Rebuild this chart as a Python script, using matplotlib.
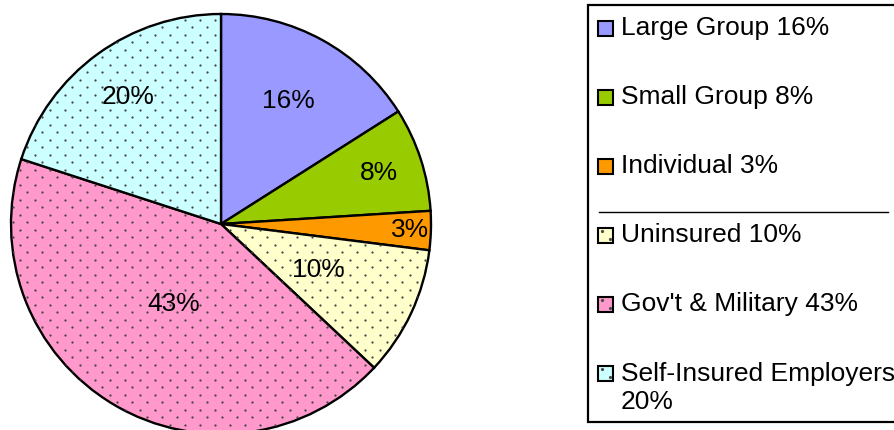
import numpy as np
import matplotlib
matplotlib.use("Agg")
import matplotlib.pyplot as plt
from matplotlib.patches import Rectangle
from matplotlib.lines import Line2D

plt.rcParams['font.family'] = ['Liberation Sans', 'DejaVu Sans']

categories = ["Large Group", "Small Group", "Individual", "Uninsured",
              "Gov't & Military", "Self-Insured Employers"]
values = [16, 8, 3, 10, 43, 20]
legend_labels = ["Large Group 16%", "Small Group 8%", "Individual 3%",
                 "Uninsured 10%", "Gov't & Military 43%",
                 "Self-Insured Employers\n20%"]
colors = ["#9999FF", "#99CC00", "#FF9900", "#FFFFCC", "#FF99CC", "#CCFFFF"]
dotted = [False, False, False, True, True, True]
label_radius = [0.67, 0.79, 0.90, 0.51, 0.44, 0.75]

W, H = 895, 430
FS = 19
fig = plt.figure(figsize=(W / 100, H / 100), dpi=100)

# pie axes: center (221,224) px, radius 210 px
cx, cy, R = 221, 224, 210
ax = fig.add_axes([(cx - R) / W, (H - cy - R) / H, 2 * R / W, 2 * R / H])

wedges, _ = ax.pie(values, colors=colors, startangle=90, counterclock=False,
                   radius=1.0, wedgeprops=dict(edgecolor='black', linewidth=1.7))
ax.set_xlim(-1, 1)
ax.set_ylim(-1, 1)
ax.set_aspect('equal')
ax.axis('off')
for w in wedges:
    w.set_clip_on(False)

# dotted texture
step = 15 / R
xs, ys = [], []
for j, yy in enumerate(np.arange(-1.1, 1.1, step / 2)):
    off = (step / 2) if j % 2 else 0
    for xx in np.arange(-1.1 + off, 1.1, step):
        xs.append(xx)
        ys.append(yy)
for w, d in zip(wedges, dotted):
    if d:
        sc = ax.scatter(xs, ys, s=2.6, color='#444444', linewidths=0, zorder=3)
        sc.set_clip_path(w)

for w, v, lr in zip(wedges, values, label_radius):
    ang = np.deg2rad((w.theta1 + w.theta2) / 2)
    ax.text(lr * np.cos(ang), lr * np.sin(ang), f"{v}%", ha='center', va='center',
            fontsize=FS, zorder=5)


# legend drawn in pixel-based figure coordinates
def fx(px):
    return px / W


def fy(py):
    return 1 - py / H


fig.patches.append(Rectangle((fx(588), fy(422)), fx(W + 10) - fx(588), fy(5) - fy(422),
                             transform=fig.transFigure, facecolor='white',
                             edgecolor='black', linewidth=1.6, clip_on=False))
row_y = [28, 97, 166, 235, 304, 373]
for lab, c, d, ry in zip(legend_labels, colors, dotted, row_y):
    fig.patches.append(Rectangle((fx(598), fy(ry + 7.5)), fx(15), 15 / H,
                                 transform=fig.transFigure, facecolor=c,
                                 edgecolor='black', linewidth=1.5))
    if d:
        fig.lines.append(Line2D([fx(602), fx(610)], [fy(ry - 4), fy(ry + 4)],
                                transform=fig.transFigure, linestyle='none',
                                marker='o', markersize=1.3, color='#4a4a4a'))
    ty = ry if '\n' not in lab else ry + 15
    fig.text(fx(621), fy(ty), lab, ha='left', va='center', fontsize=FS,
             linespacing=1.2)

fig.lines.append(Line2D([fx(599), fx(888)], [fy(212), fy(212)],
                        transform=fig.transFigure, color='black', linewidth=1.0))

fig.savefig("out.png", dpi=100)
